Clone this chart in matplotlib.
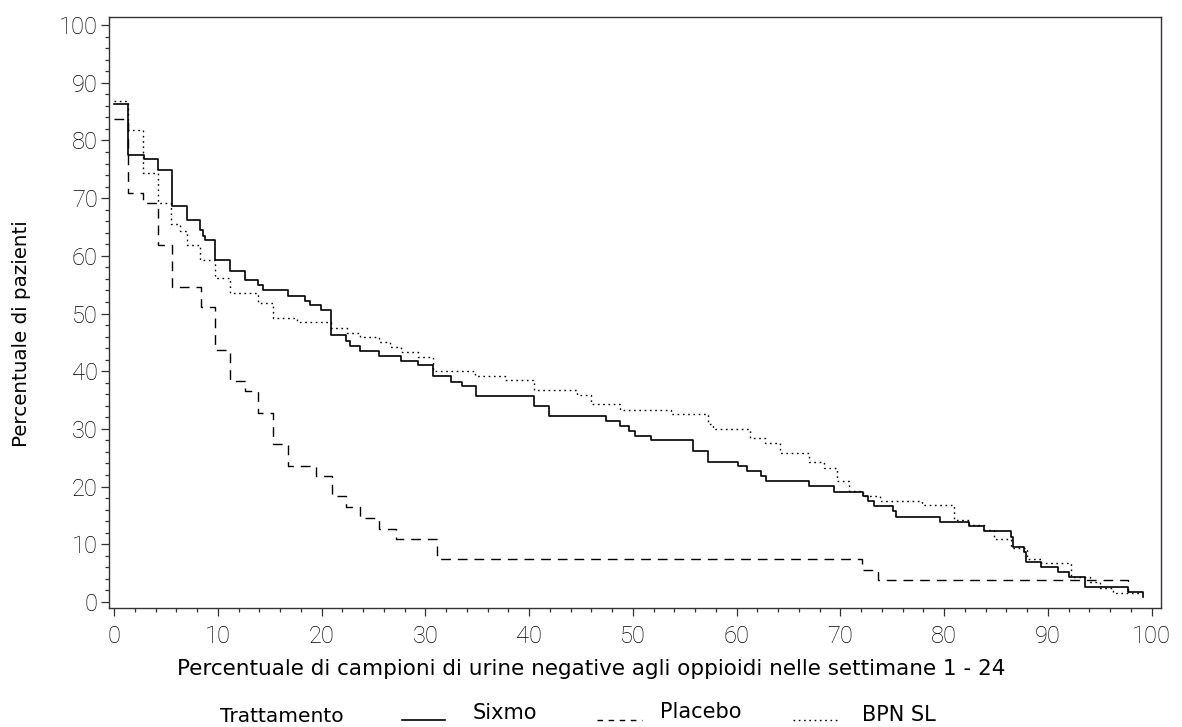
import matplotlib.pyplot as plt
from matplotlib.lines import Line2D
from matplotlib.ticker import MultipleLocator

# step breakpoints (x) and level after each breakpoint (y)
sixmo_x = [0, 1.35, 2.83, 4.2, 5.6, 7.0, 8.3, 8.6, 8.8, 9.7,
           11.2, 12.6, 13.9, 14.3, 16.8, 18.4, 18.9, 19.9, 20.9, 22.3,
           22.7, 23.7, 25.5, 27.6, 29.3, 30.7, 32.5, 33.5, 34.9, 40.5,
           41.9, 47.4, 48.8, 49.6, 50.2, 51.7, 55.8, 57.2, 60.1, 61.0,
           62.3, 62.8, 67.0, 69.4, 72.2, 72.7, 73.2, 75.1, 75.4, 79.6,
           82.4, 83.8, 86.4, 86.6, 87.7, 87.9, 89.3, 91.0, 92.0, 93.6,
           97.7, 99.2]
sixmo_y = [86.3, 77.4, 76.7, 74.9, 68.7, 66.2, 64.5, 63.4, 62.7, 59.3,
           57.4, 55.8, 54.9, 54.0, 53.1, 52.2, 51.5, 50.6, 46.3, 45.3,
           44.4, 43.5, 42.6, 41.8, 41.0, 39.1, 38.2, 37.5, 35.7, 33.9,
           32.2, 31.4, 30.5, 29.6, 28.7, 28.0, 26.2, 24.3, 23.5, 22.7,
           21.8, 20.9, 20.1, 19.1, 18.4, 17.5, 16.6, 15.7, 14.8, 13.9,
           13.1, 12.3, 11.3, 9.6, 8.7, 7.0, 6.1, 5.2, 4.4, 2.65,
           1.8, 0.9]

placebo_x = [0, 1.35, 2.8, 4.2, 5.6, 8.4, 9.7, 11.2, 12.6, 13.9, 15.3,
             16.8, 19.5, 21.0, 22.3, 23.7, 25.5, 27.2, 31.1, 72.1, 73.6, 97.7]
placebo_y = [83.8, 70.9, 69.2, 61.9, 54.6, 51.1, 43.7, 38.3, 36.5, 32.7, 27.4,
             23.6, 21.8, 18.3, 16.4, 14.6, 12.65, 10.9, 7.4, 5.5, 3.76, 1.8]

bpn_x = [0, 1.35, 2.8, 4.2, 5.5, 6.3, 7.0, 8.3, 9.7, 11.2,
         13.9, 15.3, 17.6, 20.9, 22.4, 23.7, 25.5, 26.6, 27.6, 29.3,
         30.7, 34.8, 37.7, 40.5, 44.6, 46.0, 48.8, 53.7, 57.2, 57.7,
         61.3, 62.7, 64.2, 67.0, 68.4, 69.7, 70.8, 72.2, 73.8, 77.9,
         80.9, 82.4, 83.8, 84.8, 86.4, 88.0, 89.3, 92.2, 94.1, 95.0,
         96.3, 99.0]
bpn_y = [86.8, 81.8, 74.3, 69.1, 65.5, 64.3, 61.9, 59.3, 56.1, 53.5,
         51.8, 49.2, 48.5, 47.5, 46.7, 45.9, 45.1, 44.2, 43.4, 42.5,
         40.0, 39.2, 38.4, 36.7, 35.9, 34.3, 33.3, 32.6, 30.9, 30.0,
         28.4, 27.5, 25.9, 24.2, 23.3, 20.9, 19.3, 18.4, 17.5, 16.8,
         14.2, 13.4, 12.5, 10.9, 9.3, 7.5, 6.7, 4.3, 3.4, 2.5,
         1.6, 1.6]

W, H = 1182, 727
fig = plt.figure(figsize=(W / 100, H / 100), dpi=100)
ax = fig.add_axes([109 / W, 1 - 608 / H, (1161 - 109) / W, (608 - 17) / H])

ax.step(sixmo_x, sixmo_y, where='post', color='black', lw=1.2)
ax.step(placebo_x, placebo_y, where='post', color='black', lw=1.0, dashes=(7, 5))
ax.step(bpn_x, bpn_y, where='post', color='black', lw=1.0, dashes=(1.2, 2.6))

ax.set_xlim(-0.5, 100.9)
ax.set_ylim(-1.05, 101.4)
ax.xaxis.set_major_locator(MultipleLocator(10))
ax.xaxis.set_minor_locator(MultipleLocator(2))
ax.yaxis.set_major_locator(MultipleLocator(10))
ax.yaxis.set_minor_locator(MultipleLocator(2))
ax.tick_params(which='major', length=6, width=0.9, color='#333333')
ax.tick_params(which='minor', length=3, width=0.9, color='#333333')
ax.tick_params(axis='x', which='major', pad=6)
ax.tick_params(axis='y', which='major', pad=2)
for lab in ax.get_xticklabels() + ax.get_yticklabels():
    lab.set_family('Roboto')
    lab.set_weight('light')
    lab.set_fontsize(17)
    lab.set_color('black')
for sp in ax.spines.values():
    sp.set_linewidth(1.0)
    sp.set_color('#333333')

fig.text(0.5, 1 - 669 / H,
         'Percentuale di campioni di urine negative agli oppioidi nelle settimane 1 - 24',
         ha='center', va='center', fontsize=15.5, family='DejaVu Sans')
fig.text(22 / W, 1 - 334 / H, 'Percentuale di pazienti', rotation=90,
         ha='center', va='center', fontsize=14.3, family='DejaVu Sans')

# legend row
fig.text(220 / W, 1 - 717 / H, 'Trattamento', ha='left', va='center',
         fontsize=14.5, family='DejaVu Sans')
styles = [dict(lw=1.2), dict(lw=1.0, dashes=(4, 4)), dict(lw=1.0, dashes=(1.2, 2.6))]
names = ['Sixmo', 'Placebo', 'BPN SL']
line_x = [(402, 445), (597, 642), (793, 837)]
text_x = [473, 660, 862]
text_y = [713, 712, 715]
for st, nm, lx, tx, ty in zip(styles, names, line_x, text_x, text_y):
    fig.add_artist(Line2D([lx[0] / W, lx[1] / W], [1 - 720 / H, 1 - 720 / H],
                          color='black', **st))
    fig.text(tx / W, 1 - ty / H, nm, ha='left', va='center',
             fontsize=15, family='DejaVu Sans')

fig.savefig('out.png', dpi=100)
